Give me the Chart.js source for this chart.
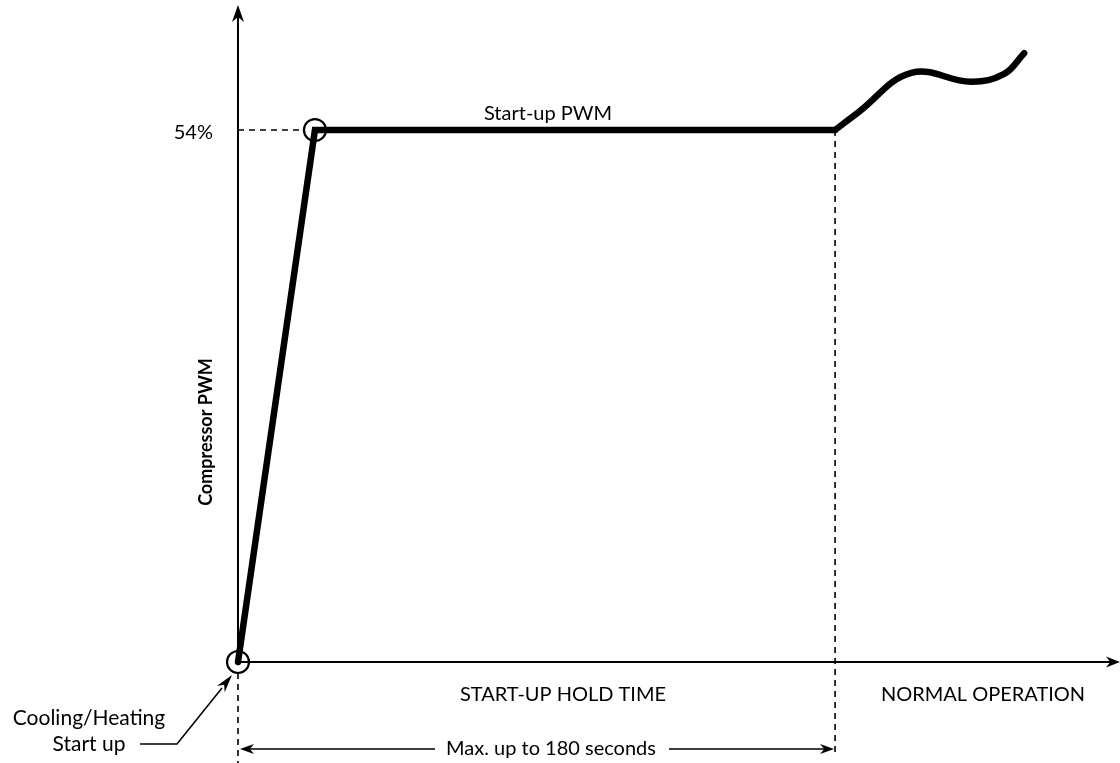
<!DOCTYPE html>
<html>
<head>
<meta charset="utf-8">
<script src="https://cdn.jsdelivr.net/npm/chart.js@4"></script>
<style>
  html, body { margin: 0; padding: 0; background: #fff; }
  #wrap { width: 1120px; height: 763px; position: relative; }
</style>
</head>
<body>
<div id="wrap"><canvas id="pwmChart"></canvas></div>
<script>
// time in seconds, PWM in %
var rampTimes = [0, 23.2, 180];
var rampValues = [0, 54, 54];
var normalTimes = [180, 187, 203, 221, 231, 237];
var normalValues = [54, 55.8, 59.8, 58.9, 59.7, 61.8];
var startupPwm = 54;
var holdTime = 180;
var markerTimes = [0, 23.2];
var markerValues = [0, 54];

function toPoints(xs, ys) {
    return xs.map(function (x, i) { return { x: x, y: ys[i] }; });
}

function arrowHead(ctx, x, y, angle, len, half) {
    ctx.save();
    ctx.translate(x, y);
    ctx.rotate(angle);
    ctx.beginPath();
    ctx.moveTo(0, 0);
    ctx.lineTo(-len, -half);
    ctx.lineTo(-len * 0.7, 0);
    ctx.lineTo(-len, half);
    ctx.closePath();
    ctx.fill();
    ctx.restore();
}

var FONT = '"Lato", "Noto Sans", sans-serif';

var diagramPlugin = {
    id: 'diagram',
    beforeDatasetsDraw: function (chart) {
        var ctx = chart.ctx;
        var xs = chart.scales.x, ys = chart.scales.y;
        var x0 = xs.getPixelForValue(0), y0 = ys.getPixelForValue(0);
        var yS = ys.getPixelForValue(startupPwm);
        var xH = xs.getPixelForValue(holdTime);
        var xR = xs.getPixelForValue(markerTimes[1]);
        ctx.save();
        ctx.strokeStyle = '#000';
        ctx.fillStyle = '#000';
        // axes
        ctx.lineWidth = 2;
        ctx.beginPath();
        ctx.moveTo(x0, y0); ctx.lineTo(x0, 14);
        ctx.moveTo(x0, y0); ctx.lineTo(1112, y0);
        ctx.stroke();
        arrowHead(ctx, x0, 5, -Math.PI / 2, 17, 6);
        arrowHead(ctx, 1120, y0, 0, 14, 5.5);
        // dashed guides
        ctx.lineWidth = 1.6;
        ctx.setLineDash([6, 5]);
        ctx.beginPath();
        ctx.moveTo(x0, yS); ctx.lineTo(xR - 11, yS);
        ctx.moveTo(xH, yS); ctx.lineTo(xH, 753);
        ctx.moveTo(x0, y0 + 11); ctx.lineTo(x0, 763);
        ctx.stroke();
        ctx.setLineDash([]);
        // hold time dimension
        ctx.beginPath();
        ctx.moveTo(x0 + 6, 749); ctx.lineTo(435, 749);
        ctx.moveTo(669, 749); ctx.lineTo(xH - 6, 749);
        ctx.stroke();
        arrowHead(ctx, x0 + 2, 749, Math.PI, 14, 5);
        arrowHead(ctx, xH - 1, 749, 0, 14, 5);
        // start-up leader
        ctx.beginPath();
        ctx.moveTo(140, 744); ctx.lineTo(177, 744); ctx.lineTo(222, 688);
        ctx.stroke();
        arrowHead(ctx, 232, 675, Math.atan2(675 - 744, 232 - 177), 18, 5);
        // texts
        ctx.font = '20px ' + FONT;
        ctx.textBaseline = 'middle';
        ctx.textAlign = 'right';
        ctx.fillText('54%', 213, 133);
        ctx.textAlign = 'center';
        ctx.font = '21px ' + FONT;
        ctx.fillText('Cooling/Heating', 89, 718);
        ctx.fillText('Start up', 89, 744);
        ctx.font = '20px ' + FONT;
        ctx.fillText('Start-up PWM', 548, 114);
        ctx.fillText('START-UP HOLD TIME', 563, 695);
        ctx.fillText('NORMAL OPERATION', 983, 695);
        ctx.fillText('Max. up to 180 seconds', 551, 749);
        ctx.save();
        ctx.translate(206, 432);
        ctx.rotate(-Math.PI / 2);
        ctx.font = 'bold 18px ' + FONT;
        ctx.fillText('Compressor PWM', 0, 0);
        ctx.restore();
        ctx.restore();
    }
};

new Chart(document.getElementById('pwmChart'), {
    type: 'scatter',
    data: {
        datasets: [{
            label: 'Start-up PWM',
            data: toPoints(rampTimes, rampValues),
            showLine: true,
            borderColor: '#000',
            borderWidth: 6.5,
            borderCapStyle: 'round',
            borderJoinStyle: 'miter',
            pointRadius: 0,
            tension: 0
        }, {
            label: 'Normal operation',
            data: toPoints(normalTimes, normalValues),
            showLine: true,
            borderColor: '#000',
            borderWidth: 6.5,
            borderCapStyle: 'round',
            pointRadius: 0,
            tension: 0.4
        }, {
            label: 'Markers',
            data: toPoints(markerTimes, markerValues),
            showLine: false,
            pointRadius: 11,
            pointBorderWidth: 2.2,
            pointBorderColor: '#000',
            pointBackgroundColor: 'rgba(0,0,0,0)'
        }]
    },
    options: {
        responsive: true,
        maintainAspectRatio: false,
        animation: false,
        clip: false,
        layout: { padding: 0, autoPadding: false },
        plugins: { legend: { display: false }, tooltip: { enabled: false } },
        scales: {
            x: { type: 'linear', min: -71.75, max: 265.9, display: false },
            y: { type: 'linear', min: -10.25, max: 67.2, display: false }
        }
    },
    plugins: [diagramPlugin]
});
</script>
</body>
</html>
